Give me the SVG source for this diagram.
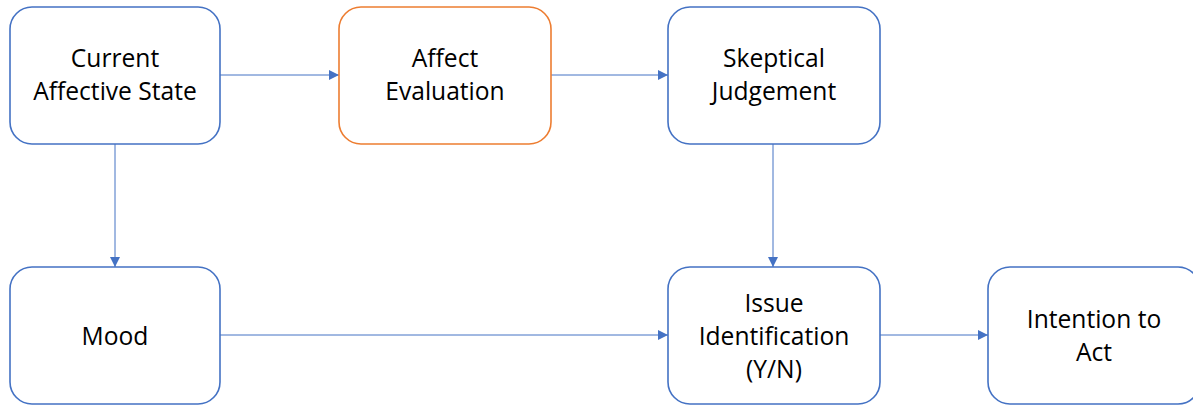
<svg xmlns="http://www.w3.org/2000/svg" width="1193" height="406" viewBox="0 0 1193 406">
  <style>
    .box { fill: #ffffff; stroke: #4472C4; stroke-width: 1.6; }
    .box.hl { stroke: #ED7D31; }
    .lbl { font-family: "Open Sans", "Liberation Sans", sans-serif; font-size: 24.6px; fill: #000000; text-anchor: middle; }
    .edge { stroke: #4472C4; stroke-width: 1; fill: none; marker-end: url(#arrow); }
  </style>
  <defs>
    <marker id="arrow" viewBox="0 0 10 10" refX="10" refY="5" markerWidth="10" markerHeight="10" markerUnits="userSpaceOnUse" orient="auto">
      <path d="M0,0 L10,5 L0,10 z" fill="#4472C4"/>
    </marker>
  </defs>
  <rect width="1193" height="406" fill="#ffffff"/>

  <g id="connectors">
    <line class="edge" x1="220" y1="75" x2="339" y2="75"/>
    <line class="edge" x1="551" y1="75" x2="668" y2="75"/>
    <line class="edge" x1="115" y1="144" x2="115" y2="267"/>
    <line class="edge" x1="773" y1="144" x2="773" y2="267"/>
    <line class="edge" x1="220" y1="335" x2="668" y2="335"/>
    <line class="edge" x1="880" y1="335" x2="988" y2="335"/>
  </g>

  <g id="node-current-affective-state">
    <rect class="box" x="10" y="7" width="210" height="137" rx="22"/>
    <text class="lbl" x="115" y="67">Current</text>
    <text class="lbl" x="115" y="100">Affective State</text>
  </g>

  <g id="node-affect-evaluation">
    <rect class="box hl" x="339" y="7" width="212" height="137" rx="22"/>
    <text class="lbl" x="445" y="67">Affect</text>
    <text class="lbl" x="445" y="100">Evaluation</text>
  </g>

  <g id="node-skeptical-judgement">
    <rect class="box" x="668" y="7" width="212" height="137" rx="22"/>
    <text class="lbl" x="774" y="67">Skeptical</text>
    <text class="lbl" x="774" y="100">Judgement</text>
  </g>

  <g id="node-mood">
    <rect class="box" x="10" y="267" width="210" height="137" rx="22"/>
    <text class="lbl" x="115" y="345">Mood</text>
  </g>

  <g id="node-issue-identification">
    <rect class="box" x="668" y="267" width="212" height="137" rx="22"/>
    <text class="lbl" x="774" y="312">Issue</text>
    <text class="lbl" x="774" y="345">Identification</text>
    <text class="lbl" x="774" y="378">(Y/N)</text>
  </g>

  <g id="node-intention-to-act">
    <rect class="box" x="988" y="267" width="212" height="137" rx="22"/>
    <text class="lbl" x="1094" y="328">Intention to</text>
    <text class="lbl" x="1094" y="361">Act</text>
  </g>
</svg>
